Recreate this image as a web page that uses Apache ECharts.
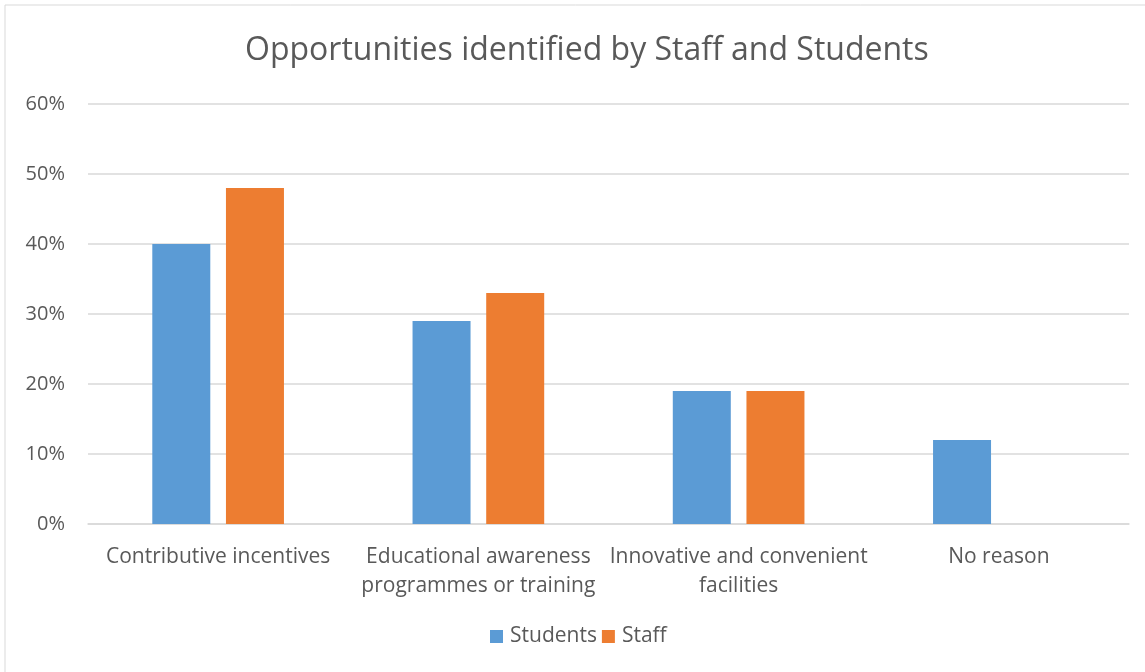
<!DOCTYPE html>
<html>
<head>
<meta charset="utf-8">
<script src="https://cdn.jsdelivr.net/npm/echarts@6/dist/echarts.min.js"></script>
<style>
  html, body { margin: 0; padding: 0; background: #fff; }
  #chart { width: 1145px; height: 672px; }
</style>
</head>
<body>
<div id="chart"></div>
<script>
const categories = ['Contributive incentives', 'Educational awareness\nprogrammes or training', 'Innovative and convenient\nfacilities', 'No reason'];
const students = [40, 29, 19, 12];
const staff = [48, 33, 19, 0];
const yTicks = [0, 10, 20, 30, 40, 50, 60];

const font = 'Open Sans';
const chart = echarts.init(document.getElementById('chart'));
const option = {
  animation: false,
  textStyle: { fontFamily: font },
  graphic: [{
    type: 'rect',
    shape: { x: 5, y: 5, width: 1145, height: 680 },
    style: { fill: 'none', stroke: '#d9d9d9', lineWidth: 1 }
  }],
  title: {
    text: 'Opportunities identified by Staff and Students',
    left: 240,
    top: 30,
    textStyle: { fontFamily: font, fontSize: 32, fontWeight: 'normal', color: '#595959' }
  },
  legend: {
    bottom: 20,
    left: 485,
    itemWidth: 13,
    itemHeight: 13,
    itemGap: 5,
    icon: 'rect',
    textStyle: { fontFamily: font, fontSize: 21, color: '#595959', padding: [0, 0, 0, 2] },
    data: ['Students', 'Staff']
  },
  grid: { left: 88, right: 16, top: 104, bottom: 148 },
  xAxis: {
    type: 'category',
    data: categories,
    axisLine: { lineStyle: { color: '#d9d9d9', width: 1.5 } },
    axisTick: { show: false },
    axisLabel: { fontFamily: font, fontSize: 21, color: '#595959', margin: 19, lineHeight: 29, interval: 0 }
  },
  yAxis: {
    type: 'value',
    min: yTicks[0],
    max: yTicks[yTicks.length - 1],
    interval: 10,
    axisLine: { show: false },
    axisTick: { show: false },
    splitLine: { lineStyle: { color: '#d9d9d9', width: 1.5 } },
    axisLabel: { fontFamily: font, fontSize: 20, color: '#595959', margin: 23, formatter: '{value}%' }
  },
  series: [
    { name: 'Students', type: 'bar', data: students, barWidth: 58, barGap: '27%', itemStyle: { color: '#5b9bd5' } },
    { name: 'Staff', type: 'bar', data: staff, barWidth: 58, itemStyle: { color: '#ed7d31' } }
  ]
};
chart.setOption(option);
</script>
</body>
</html>
